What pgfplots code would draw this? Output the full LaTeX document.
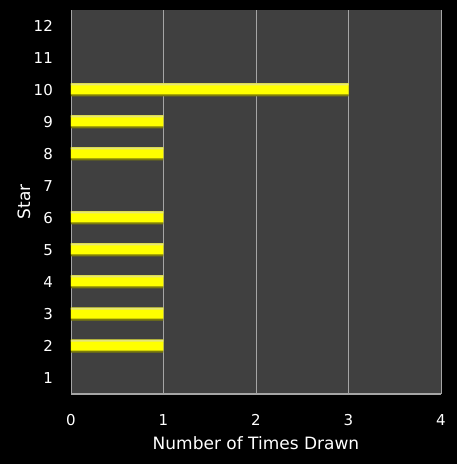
\documentclass[border=0pt]{standalone}
\usepackage{fontspec}
\setmainfont{DejaVu Sans}
\usepackage{pgfplots}
\pgfplotsset{compat=1.18}

\definecolor{plotbg}{RGB}{64,64,64}
\definecolor{gridgray}{RGB}{165,165,165}
\definecolor{bardark}{RGB}{125,125,10}
\definecolor{barmain}{RGB}{255,255,0}
\definecolor{barpale}{RGB}{230,230,120}

\pgfplotstableread{
count star
1 2
1 3
1 4
1 5
1 6
1 8
1 9
3 10
}\stars

\begin{document}
\begin{tikzpicture}
\fill[black] (-71bp,-70bp) rectangle (386bp,394bp);
\begin{axis}[
    at={(0,0)}, anchor=south west,
    scale only axis,
    width=370bp, height=384bp,
    xmin=0, xmax=4,
    ymin=0.5, ymax=12.5,
    xtick={0,1,2,3,4},
    ytick={1,2,...,12},
    major tick length=0pt,
    axis background/.style={fill=plotbg},
    axis line style={draw=none},
    xmajorgrids,
    grid style={gridgray, line width=0.8bp},
    font=\fontsize{15bp}{18bp}\selectfont,
    /pgf/number format/assume math mode=true,
    tick label style={white},
    yticklabel style={anchor=east, inner sep=0pt, xshift=-18bp},
    xticklabel style={anchor=north, inner sep=0pt, yshift=-20bp},
    xlabel={Number of Times Drawn},
    ylabel={Star},
    label style={font=\fontsize{17bp}{20bp}\selectfont},
    xlabel style={white, at={(axis description cs:0.5,0)}, anchor=center, yshift=-49bp},
    ylabel style={white, at={(axis description cs:0,0.5)}, anchor=center, yshift=47bp},
    xbar, bar shift=0pt,
  ]
  % dark lower edge, bright body, pale upper edge
  \addplot[xbar, bar width=13bp, draw=none, fill=bardark] table[x=count, y=star] {\stars};
  \addplot[xbar, bar width=11bp, bar shift=1bp, draw=none, fill=barmain] table[x=count, y=star] {\stars};
  \addplot[xbar, bar width=2bp, bar shift=5.5bp, draw=none, fill=barpale] table[x=count, y=star] {\stars};
  \draw[gridgray, line width=1.2bp] (axis cs:0,0.5) -- (axis cs:4,0.5);
\end{axis}
\end{tikzpicture}
\end{document}
